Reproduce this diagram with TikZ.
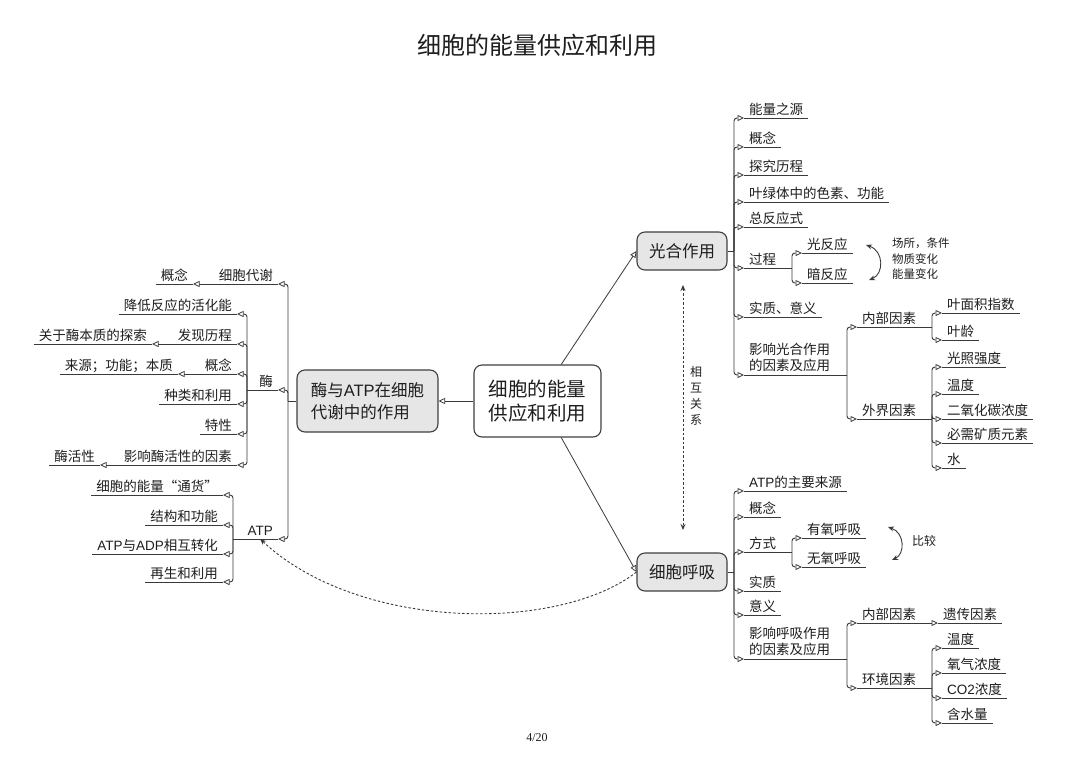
\documentclass[tikz,border=0pt]{standalone}
\usepackage{fontspec}
\setmainfont{Noto Sans CJK SC}
\newfontfamily\lat{Liberation Sans}
\newfontfamily\ser{Liberation Serif}
\usetikzlibrary{arrows.meta}
\newcommand\A[1]{{\lat #1}}
\newcommand\lf{\fontsize{13.5pt}{16.5pt}\selectfont}
\definecolor{lc}{HTML}{3A3A3A}
\definecolor{tc}{HTML}{1E1E1E}
\definecolor{gfill}{HTML}{E6E6E6}
\definecolor{bc}{HTML}{404040}
\tikzset{
  ln/.style={draw=lc, line width=0.9pt},
  tip/.style={-{Triangle[open,length=6.5pt,width=6pt,line width=0.75pt]}},
  br/.style={ln, tip, rounded corners=3pt},
  ul/.style={draw=lc, line width=0.9pt},
  leafbase/.style={font=\lf, text=tc, inner xsep=5pt, inner ysep=2pt, align=left},
  leafR/.style={leafbase, anchor=south west, text height=10.5pt, text depth=1.5pt},
  leafR2/.style={leafbase, anchor=south west, inner ysep=3pt},
  leafL/.style={leafbase, anchor=south east, text height=10.5pt, text depth=1.5pt},
  root/.style={draw=bc, line width=1.1pt, rounded corners=8pt, fill=gfill, text=tc, align=left, inner sep=0pt},
  dsh/.style={draw=lc, line width=0.9pt, dash pattern=on 2.5pt off 2pt},
  st/.style={-{Stealth[length=6pt,width=5pt]}},
  sst/.style={{Stealth[length=6pt,width=5pt]}-{Stealth[length=6pt,width=5pt]}},
}
\begin{document}
\begin{tikzpicture}[x=1pt,y=-1pt]
\fill[white] (0,0) rectangle (1080,764);
\path[use as bounding box] (0,0) rectangle (1080,764);

% title and page number
\node[text=tc, font=\fontsize{24pt}{28pt}\selectfont] (title) at (537,45) {细胞的能量供应和利用};
\node[text=tc, font=\ser\fontsize{12pt}{14pt}\selectfont] (page) at (537,738) {4/20};

% root nodes
\node[root, fill=white, minimum width=127pt, minimum height=72pt, font=\fontsize{19.5pt}{24pt}\selectfont] (C) at (537.5,401) {细胞的能量\\供应和利用};
\node[root, minimum width=141pt, minimum height=62pt, font=\fontsize{16.5pt}{21.5pt}\selectfont] (L) at (367.5,401) {酶与\A{ATP}在细胞\\代谢中的作用};
\node[root, minimum width=90pt, minimum height=38pt, font=\fontsize{16.5pt}{20pt}\selectfont] (P) at (682,251) {光合作用};
\node[root, minimum width=90pt, minimum height=38pt, font=\fontsize{16.5pt}{20pt}\selectfont] (R) at (682,572) {细胞呼吸};

\draw[ln, tip, line width=0.8pt] (C.west) -- (L.east);
\draw[ln, tip, line width=0.8pt] (C.57) -- (P.west);
\draw[ln, tip, line width=0.8pt] (C.-57) -- (R.west);

% ---------- left side ----------
\node[leafL] (l1) at (278,284) {细胞代谢};
\node[leafL] (l1a) at (193,284) {概念};
\node[leafL] (l2) at (278,390) {酶};
\node[leafL] (l3) at (278,539) {\A{ATP}};
\node[leafL] (m1) at (237,314) {降低反应的活化能};
\node[leafL] (m2) at (237,344) {发现历程};
\node[leafL] (m2a) at (152,344) {关于酶本质的探索};
\node[leafL] (m3) at (237,374) {概念};
\node[leafL] (m3a) at (178,374) {来源；功能；本质};
\node[leafL] (m4) at (237,404) {种类和利用};
\node[leafL] (m5) at (237,434) {特性};
\node[leafL] (m6) at (237,465) {影响酶活性的因素};
\node[leafL] (m6a) at (100,465) {酶活性};
\node[leafL] (a1) at (223,495) {细胞的能量“通货”};
\node[leafL] (a2) at (223,525) {结构和功能};
\node[leafL] (a3) at (223,554) {\A{ATP}与\A{ADP}相互转化};
\node[leafL] (a4) at (223,582) {再生和利用};

% ---------- photosynthesis ----------
\node[leafR] (p1) at (744,118) {能量之源};
\node[leafR] (p2) at (744,147) {概念};
\node[leafR] (p3) at (744,175) {探究历程};
\node[leafR] (p4) at (744,202) {叶绿体中的色素、功能};
\node[leafR] (p5) at (744,227) {总反应式};
\node[leafR] (p6) at (744,268) {过程};
\node[leafR] (p7) at (744,317) {实质、意义};
\node[leafR2] (p8) at (744,375) {影响光合作用\\的因素及应用};
\node[leafR] (q1) at (802,253) {光反应};
\node[leafR] (q2) at (802,283) {暗反应};
\node[leafR] (r1) at (857,327) {内部因素};
\node[leafR] (r2) at (857,419) {外界因素};
\node[leafR] (s1) at (942,313) {叶面积指数};
\node[leafR] (s2) at (942,340) {叶龄};
\node[leafR] (t1) at (942,367) {光照强度};
\node[leafR] (t2) at (942,394) {温度};
\node[leafR] (t3) at (942,419) {二氧化碳浓度};
\node[leafR] (t4) at (942,443) {必需矿质元素};
\node[leafR] (t5) at (942,468) {水};

% ---------- respiration ----------
\node[leafR] (e1) at (744,491) {\A{ATP}的主要来源};
\node[leafR] (e2) at (744,517) {概念};
\node[leafR] (e3) at (744,552) {方式};
\node[leafR] (e4) at (744,591) {实质};
\node[leafR] (e5) at (744,615) {意义};
\node[leafR2] (e6) at (744,659) {影响呼吸作用\\的因素及应用};
\node[leafR] (f1) at (802,538) {有氧呼吸};
\node[leafR] (f2) at (802,567) {无氧呼吸};
\node[leafR] (g1) at (857,623) {内部因素};
\node[leafR] (g2) at (857,688) {环境因素};
\node[leafR] (h0) at (938,623) {遗传因素};
\node[leafR] (h1) at (942,648) {温度};
\node[leafR] (h2) at (942,673) {氧气浓度};
\node[leafR] (h3) at (942,698) {\A{CO2}浓度};
\node[leafR] (h4) at (942,723) {含水量};

% underlines
\foreach \n in {l1,l1a,l2,l3,m1,m2,m2a,m3,m3a,m4,m5,m6,m6a,a1,a2,a3,a4,
  p1,p2,p3,p4,p5,p6,p7,p8,q1,q2,r1,r2,s1,s2,t1,t2,t3,t4,t5,
  e1,e2,e3,e4,e5,e6,f1,f2,g1,g2,h0,h1,h2,h3,h4}
  \draw[ul] (\n.south west) -- (\n.south east);

% left connectors
\draw[ln] (L.west) -- (288,401) coordinate (sL);
\foreach \n in {l1,l2,l3} \draw[br] (sL) |- (\n.south east);
\draw[ln, tip] (l1.south west) -- (l1a.south east);
\draw[ln] (l2.south west) -- (247,390) coordinate (sM);
\foreach \n in {m1,m2,m3,m4,m5,m6} \draw[br] (sM) |- (\n.south east);
\draw[ln, tip] (m2.south west) -- (m2a.south east);
\draw[ln, tip] (m3.south west) -- (m3a.south east);
\draw[ln, tip] (m6.south west) -- (m6a.south east);
\draw[ln] (l3.south west) -- (233,539) coordinate (sA);
\foreach \n in {a1,a2,a3,a4} \draw[br] (sA) |- (\n.south east);

% photosynthesis connectors
\draw[ln] (P.east) -- (734,251) coordinate (sP);
\foreach \n in {p1,p2,p3,p4,p5,p6,p7,p8} \draw[br] (sP) |- (\n.south west);
\draw[ln] (p6.south east) -- (792,268) coordinate (sQ);
\foreach \n in {q1,q2} \draw[br] (sQ) |- (\n.south west);
\draw[ln] (p8.south east) -- (847,375) coordinate (sF);
\foreach \n in {r1,r2} \draw[br] (sF) |- (\n.south west);
\draw[ln] (r1.south east) -- (932,327) coordinate (sI);
\foreach \n in {s1,s2} \draw[br] (sI) |- (\n.south west);
\draw[ln] (r2.south east) -- (932,419) coordinate (sE);
\foreach \n in {t1,t2,t3,t4,t5} \draw[br] (sE) |- (\n.south west);

\coordinate (ca1) at (866,245);
\coordinate (ca2) at (869,280);
\draw[draw=lc, line width=0.9pt, sst] (ca1) .. controls (884,251) and (884,274) .. (ca2);
\node[anchor=west, text=tc, align=left, font=\fontsize{11.5pt}{15.5pt}\selectfont, inner sep=0pt] (note1) at (892,259) {场所，条件\\物质变化\\能量变化};

% respiration connectors
\draw[ln] (R.east) -- (734,572) coordinate (sR);
\foreach \n in {e1,e2,e3,e4,e5,e6} \draw[br] (sR) |- (\n.south west);
\draw[ln] (e3.south east) -- (792,552) coordinate (sW);
\foreach \n in {f1,f2} \draw[br] (sW) |- (\n.south west);
\draw[ln] (e6.south east) -- (847,659) coordinate (sG);
\foreach \n in {g1,g2} \draw[br] (sG) |- (\n.south west);
\draw[ln, tip] (g1.south east) -- (h0.south west);
\draw[ln] (g2.south east) -- (932,688) coordinate (sH);
\foreach \n in {h1,h2,h3,h4} \draw[br] (sH) |- (\n.south west);

\coordinate (cb1) at (888,527);
\coordinate (cb2) at (892,560);
\draw[draw=lc, line width=0.9pt, sst] (cb1) .. controls (905,533) and (905,554) .. (cb2);
\node[anchor=west, text=tc, font=\fontsize{12pt}{14pt}\selectfont, inner sep=0pt] (note2) at (912,541) {比较};

% ---------- relations ----------
\coordinate (dv1) at (683,285);
\coordinate (dv2) at (683,530);
\draw[dsh, sst] (dv1) -- (dv2);
\node[text=tc, align=center, font=\fontsize{12pt}{16pt}\selectfont, inner sep=0pt] (rel) at (696,396) {相\\互\\关\\系};

\draw[dsh, st] (R.west) .. controls (560,632) and (360,632) .. (l3.south);
\end{tikzpicture}
\end{document}
